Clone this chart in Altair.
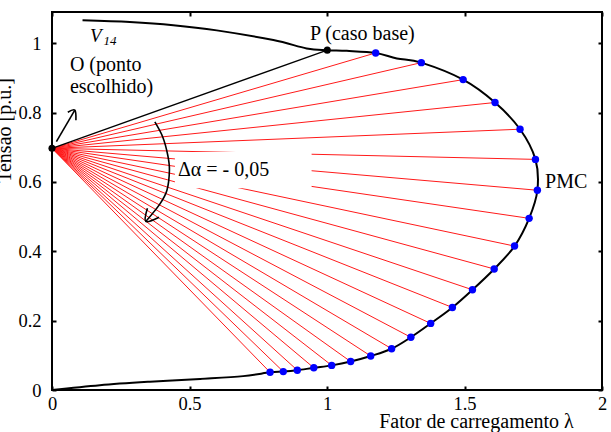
import altair as alt
import pandas as pd

FONT = "Liberation Serif"

# ---- data ----
x_ticks = [0, 0.5, 1, 1.5, 2]
y_ticks = [0, 0.2, 0.4, 0.6, 0.8, 1]

# blue points on the PV curve (lambda, V)
blue_lam = [1.177, 1.343, 1.495, 1.611, 1.702, 1.758, 1.765, 1.735, 1.682, 1.608, 1.529,
            1.456, 1.377, 1.305, 1.235, 1.159, 1.086, 1.017, 0.952, 0.892, 0.841, 0.793]
blue_v = [0.972, 0.944, 0.895, 0.829, 0.752, 0.665, 0.576, 0.495, 0.415, 0.349, 0.289,
          0.238, 0.192, 0.152, 0.119, 0.098, 0.082, 0.071, 0.064, 0.057, 0.053, 0.051]

# chosen point O and base case P
o_lam, o_v = 0.0, 0.697
p_lam, p_v = 1.001, 0.980

# black curve pieces
top_lam = [0.111, 0.283, 0.441, 0.599, 0.805, 0.926, 1.001, 1.072]
top_v = [1.066, 1.061, 1.052, 1.037, 1.009, 0.985, 0.980, 0.978]
mid_lam, mid_v = 1.254, 0.956
bot_lam = [0.695, 0.539, 0.356, 0.174, 0.0]
bot_v = [0.040, 0.032, 0.024, 0.014, 0.0]

# annotation arrows (data coordinates)
arrow1_lam = [0.016, 0.083]
arrow1_v = [0.716, 0.807]
arrow1_head_lam = [0.0575, 0.083, 0.087]
arrow1_head_v = [0.801, 0.807, 0.778]
arc_lam = [0.374, 0.403, 0.421, 0.427, 0.418, 0.392, 0.341]
arc_v = [0.773, 0.729, 0.677, 0.634, 0.576, 0.536, 0.486]
arc_head_lam = [0.347, 0.341, 0.389]
arc_head_v = [0.524, 0.486, 0.498]

# label box region behind "Δα" text
box_lam = [0.447, 0.944]
box_v = [0.582, 0.686]

# ---- tables ----
curve_lam = top_lam + [blue_lam[0], mid_lam] + blue_lam[1:] + bot_lam
curve_v = top_v + [blue_v[0], mid_v] + blue_v[1:] + bot_v
curve_df = pd.DataFrame({"x": curve_lam, "y": curve_v, "o": range(len(curve_lam))})

rays_df = pd.DataFrame({"x": [o_lam] * len(blue_lam), "y": [o_v] * len(blue_lam),
                        "x2": blue_lam, "y2": blue_v})
op_df = pd.DataFrame({"x": [o_lam], "y": [o_v], "x2": [p_lam], "y2": [p_v]})
blue_df = pd.DataFrame({"x": blue_lam, "y": blue_v})
black_df = pd.DataFrame({"x": [o_lam, p_lam], "y": [o_v, p_v]})
box_df = pd.DataFrame({"x": [box_lam[0]], "x2": [box_lam[1]], "y": [box_v[0]], "y2": [box_v[1]]})

def path_df(lx, ly, name):
    return pd.DataFrame({"x": lx, "y": ly, "o": range(len(lx)), "g": name})

arrows_df = pd.concat([
    path_df(arrow1_lam, arrow1_v, "a1"),
    path_df(arrow1_head_lam, arrow1_head_v, "a1h"),
    path_df(arc_lam, arc_v, "arc"),
    path_df(arc_head_lam, arc_head_v, "arch"),
])

texts_df = pd.DataFrame({
    "x": [0.065, 0.065, 0.938, 1.793, 0.458],
    "y": [0.919, 0.856, 1.009, 0.582, 0.617],
    "t": ["O (ponto", "escolhido)", "P (caso base)", "PMC", "Δα = - 0,05"],
})
v_df = pd.DataFrame({"x": [0.138], "y": [1.003], "t": ["V"]})
sub_df = pd.DataFrame({"x": [0.187], "y": [0.994], "t": ["14"]})

xs = alt.Scale(domain=[0, 2], nice=False, zero=False)
ys = alt.Scale(domain=[0, 1.09], nice=False, zero=False)

common_axis = dict(domain=False, grid=False, ticks=True, tickSize=4, tickWidth=2,
                   tickColor="black", offset=-4, labelFont=FONT, labelFontSize=18.5,
                   labelFontWeight="normal", labelFontStyle="normal",
                   labelColor="black", titleFont=FONT, titleFontSize=20,
                   titleFontWeight="normal", titleColor="black", labelFlush=False)

x_bottom = alt.Axis(orient="bottom", values=x_ticks, labelExpr="'' + datum.value",
                    title="Fator de carregamento λ", labelPadding=4,
                    titleX=424, titleY=41.8, titleAlign="center", titleBaseline="alphabetic",
                    **common_axis)
y_left = alt.Axis(orient="left", values=y_ticks, labelExpr="'' + datum.value",
                  title="Tensao [p.u.]", labelPadding=11, titleAngle=270,
                  titleX=-46, titleY=118, titleAlign="center", titleBaseline="alphabetic",
                  **common_axis)
x_top = alt.Axis(orient="top", values=x_ticks, labels=False, title=None, **common_axis)
y_right = alt.Axis(orient="right", values=y_ticks, labels=False, title=None, **common_axis)

axes_a = alt.Chart(black_df).mark_point(opacity=0).encode(
    x=alt.X("x:Q", scale=xs, axis=x_bottom), y=alt.Y("y:Q", scale=ys, axis=y_left))
axes_b = alt.Chart(black_df).mark_point(opacity=0).encode(
    x=alt.X("x:Q", scale=xs, axis=x_top), y=alt.Y("y:Q", scale=ys, axis=y_right))

X = lambda: alt.X("x:Q", scale=xs, axis=None)
Y = lambda: alt.Y("y:Q", scale=ys, axis=None)

rays = alt.Chart(rays_df).mark_rule(color="#ff1a1a", strokeWidth=1).encode(
    x=X(), y=Y(), x2="x2:Q", y2="y2:Q")
op = alt.Chart(op_df).mark_rule(color="black", strokeWidth=1.3).encode(
    x=X(), y=Y(), x2="x2:Q", y2="y2:Q")
box = alt.Chart(box_df).mark_rect(color="white").encode(x=X(), y=Y(), x2="x2:Q", y2="y2:Q")
curve = alt.Chart(curve_df).mark_line(color="black", strokeWidth=2, interpolate="cardinal").encode(
    x=X(), y=Y(), order="o:Q")
blue = alt.Chart(blue_df).mark_circle(color="#0000ff", opacity=1, size=55).encode(x=X(), y=Y())
black = alt.Chart(black_df).mark_circle(color="black", opacity=1, size=50).encode(x=X(), y=Y())
arrows = alt.Chart(arrows_df).mark_line(color="black", strokeWidth=1.6, interpolate="cardinal").encode(
    x=X(), y=Y(), order="o:Q", detail="g:N")
texts = alt.Chart(texts_df).mark_text(font=FONT, fontSize=20, fontWeight="normal", align="left",
                                      baseline="alphabetic", color="black").encode(
    x=X(), y=Y(), text="t:N")
vt = alt.Chart(v_df).mark_text(font=FONT, fontSize=19, fontStyle="italic", fontWeight="normal",
                               align="left", baseline="alphabetic", color="black").encode(
    x=X(), y=Y(), text="t:N")
subt = alt.Chart(sub_df).mark_text(font=FONT, fontSize=13, fontStyle="italic", fontWeight="normal",
                                   align="left", baseline="alphabetic", color="black").encode(
    x=X(), y=Y(), text="t:N")

chart = alt.layer(axes_a, axes_b, rays, op, box, curve, blue, black, arrows, texts, vt, subt).resolve_scale(
    x="shared", y="shared").resolve_axis(x="independent", y="independent").properties(
    width=550, height=378, autosize="none",
    padding={"left": 52, "top": 12, "right": 9, "bottom": 42},
    background="white",
).configure(font=FONT).configure_view(stroke="black", strokeWidth=2)

chart.save("out.html", embed_options={"renderer": "svg", "actions": False})
